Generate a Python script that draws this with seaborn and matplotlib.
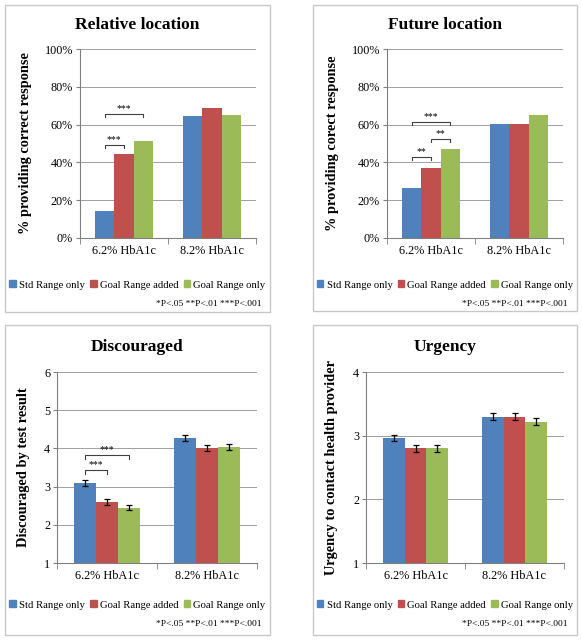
import pandas as pd
import numpy as np
import seaborn as sns
import matplotlib.pyplot as plt
from matplotlib.patches import Rectangle
from matplotlib.ticker import FuncFormatter

levels = ['6.2% HbA1c', '8.2% HbA1c']
conditions = ['Std Range only', 'Goal Range added', 'Goal Range only']
colors = ['#4F81BD', '#C0504D', '#9BBB59']

# values per panel: rows = levels, cols = conditions
relative_loc = [[14.3, 44.4, 51.5], [64.6, 69.0, 65.3]]
future_loc = [[26.2, 37.2, 47.3], [60.4, 60.4, 65.3]]
discouraged = [[3.09, 2.60, 2.45], [4.27, 4.01, 4.04]]
discouraged_err = [[0.07, 0.08, 0.07], [0.08, 0.08, 0.08]]
urgency = [[2.96, 2.80, 2.80], [3.30, 3.30, 3.22]]
urgency_err = [[0.05, 0.06, 0.06], [0.05, 0.05, 0.06]]

# significance brackets: (bar i, bar j, height, label) within 6.2% group
rel_sig = [(0, 2, 65.7, '***'), (0, 1, 49.4, '***')]
fut_sig = [(0, 2, 61.5, '***'), (0, 1, 43.0, '**'), (1, 2, 52.5, '**')]
dis_sig = [(0, 2, 3.82, '***'), (0, 1, 3.43, '***')]

footnote = '*P<.05 **P<.01 ***P<.001'

W, H = 582, 641
fig = plt.figure(figsize=(W / 100, H / 100), dpi=100)
fig.patch.set_facecolor('white')
plt.rcParams['font.family'] = ['Liberation Serif', 'DejaVu Serif']


def px_axes(l, t, r, b):
    return fig.add_axes([l / W, 1 - b / H, (r - l) / W, (b - t) / H])


def panel(box, ax_box, title, title_y, vals, ylabel, label_x, ylim, yticks,
          pct=False, err=None, sig=None):
    bl, bt, br, bb = box
    fig.add_artist(Rectangle((bl / W, 1 - bb / H), (br - bl) / W, (bb - bt) / H,
                             transform=fig.transFigure, fill=False, edgecolor='#c8c8c8', lw=1))
    ax = px_axes(*ax_box)
    df = pd.DataFrame([(levels[i], conditions[j], vals[i][j])
                       for i in range(2) for j in range(3)],
                      columns=['level', 'condition', 'value'])
    sns.barplot(data=df, x='level', y='value', hue='condition', hue_order=conditions,
                palette=colors, width=0.66, errorbar=None, ax=ax, saturation=1,
                linewidth=0)
    # bar centers
    centers = {}
    for j, cont in enumerate(ax.containers):
        for i, p in enumerate(cont.patches):
            centers[(i, j)] = p.get_x() + p.get_width() / 2
    if err is not None:
        for i in range(2):
            for j in range(3):
                ax.errorbar(centers[(i, j)], vals[i][j], yerr=err[i][j], color='black',
                            capsize=2.5, lw=0.9, capthick=0.9, zorder=5)
    if sig is not None:
        d = (ylim[1] - ylim[0]) * 0.018
        for a, b_, y, lab in sig:
            x0, x1 = centers[(0, a)], centers[(0, b_)]
            ax.plot([x0, x0, x1, x1], [y - d, y, y, y - d], color='#404040', lw=0.8)
            ax.text((x0 + x1) / 2, y + d * 0.3, lab, ha='center', va='bottom', fontsize=7)
    ax.set_ylim(*ylim)
    ax.set_yticks(yticks)
    if pct:
        ax.yaxis.set_major_formatter(FuncFormatter(lambda v, _: f'{int(v)}%'))
    ax.set_xlim(-0.5, 1.5)
    ax.grid(axis='y', color='#a0a0a0', lw=0.7)
    ax.set_axisbelow(True)
    for s in ['top', 'right']:
        ax.spines[s].set_visible(False)
    for s in ['left', 'bottom']:
        ax.spines[s].set_color('#808080')
        ax.spines[s].set_linewidth(0.8)
    ax.tick_params(axis='y', labelsize=8.7, length=3, color='#808080', pad=2)
    ax.tick_params(axis='x', which='major', labelsize=8.8, length=0, pad=5)
    ax.set_xticks([-0.5, 0.5, 1.5], minor=True)
    ax.tick_params(axis='x', which='minor', length=4, color='#808080')
    ax.set_xlabel('')
    ax.set_ylabel(ylabel, fontsize=10.4, fontweight='bold')
    al, at, ar, ab = ax_box
    ax.yaxis.set_label_coords((label_x - al) / (ar - al), 0.5)
    ax.legend_.remove()
    fig.text((bl + br) / 2 / W, 1 - title_y / H, title, ha='center', va='center',
             fontsize=12.5, fontweight='bold')
    handles = [Rectangle((0, 0), 1, 1, color=c) for c in colors]
    fig.legend(handles, conditions, loc='center', ncol=3, frameon=False,
               bbox_to_anchor=((bl + br) / 2 / W, 1 - (bt + 280) / H),
               fontsize=7.7, handlelength=0.6, handleheight=0.6, handletextpad=0.3,
               columnspacing=0.5, borderpad=0)
    fig.text((br - 9) / W, 1 - (bt + 299) / H, footnote, ha='right', va='center', fontsize=6.8)
    return ax


panel((5, 5, 270, 312), (80, 49, 256, 238), 'Relative location', 25, relative_loc,
      '% providing correct response', 32, (0, 100), [0, 20, 40, 60, 80, 100],
      pct=True, sig=rel_sig)
panel((313, 5, 577, 311), (387, 49, 563, 238), 'Future location', 25, future_loc,
      '% providing corect response', 339, (0, 100), [0, 20, 40, 60, 80, 100],
      pct=True, sig=fut_sig)
panel((5, 325, 270, 635), (57, 372, 257, 563), 'Discouraged', 347, discouraged,
      'Discouraged by test result', 30, (1, 6), [1, 2, 3, 4, 5, 6],
      err=discouraged_err, sig=dis_sig)
panel((313, 325, 577, 635), (366, 372, 564, 563), 'Urgency', 347, urgency,
      'Urgency to contact health provider', 338, (1, 4), [1, 2, 3, 4],
      err=urgency_err)

fig.savefig('out.png', dpi=100)
